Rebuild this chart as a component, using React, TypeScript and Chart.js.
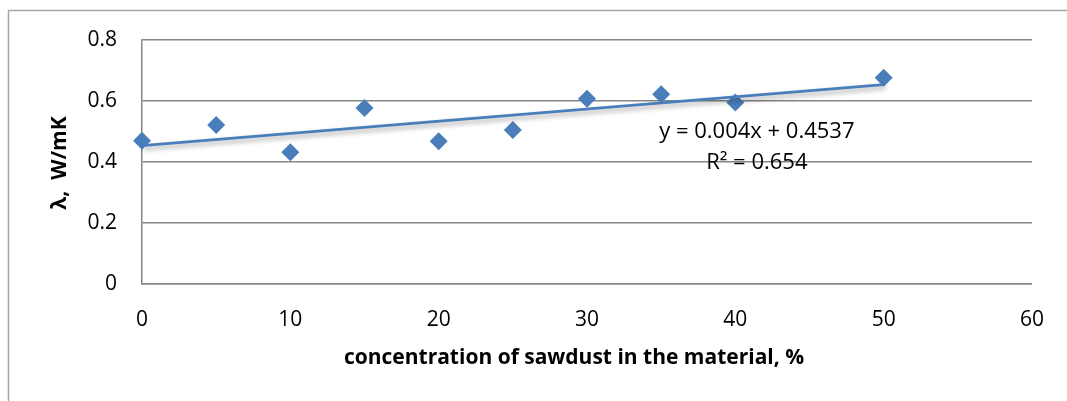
import React, { useEffect, useRef } from "react";
import { Chart, registerables } from "chart.js";

Chart.register(...registerables);

const concentrations = [0, 5, 10, 15, 20, 25, 30, 35, 40, 50];
const conductivity = [0.47, 0.521, 0.432, 0.577, 0.468, 0.505, 0.607, 0.622, 0.595, 0.676];
const trendX = [0, 50];
const trendY = [0.4537, 0.6537];
const xTicks = [0, 10, 20, 30, 40, 50, 60];
const yTicks = [0, 0.2, 0.4, 0.6, 0.8];
const equationLines = ["y = 0.004x + 0.4537", "R² = 0.654"];
const xTitle = "concentration of sawdust in the material, %";
const yTitle = "λ,  W/mK";

const FONT = "'Open Sans', 'Liberation Sans', sans-serif";
const BLUE = "#4a7ebb";
const GRID = "#868686";

export default function App() {
  const ref = useRef<HTMLCanvasElement | null>(null);
  useEffect(() => {
    if (!ref.current) return;
    const decor = {
      id: "decor",
      beforeDraw(chart: any) {
        const ctx = chart.ctx;
        ctx.save();
        ctx.fillStyle = "#fff";
        ctx.fillRect(0, 0, chart.width, chart.height);
        ctx.strokeStyle = "#a6a6a6";
        ctx.lineWidth = 1.5;
        ctx.strokeRect(8.5, 10.5, 3000, 3000);
        ctx.restore();
      },
      beforeDatasetDraw(chart: any, args: any) {
        if (args.index === 1) {
          const ctx = chart.ctx;
          ctx.save();
          ctx.shadowColor = "rgba(0,0,0,0.35)";
          ctx.shadowBlur = 5;
          ctx.shadowOffsetX = 2;
          ctx.shadowOffsetY = 3;
        }
      },
      afterDatasetDraw(chart: any, args: any) {
        if (args.index === 1) chart.ctx.restore();
      },
      afterDraw(chart: any) {
        const ctx = chart.ctx;
        const xs = chart.scales.x;
        const ys = chart.scales.y;
        ctx.save();
        ctx.fillStyle = "#000";
        ctx.textAlign = "center";
        ctx.textBaseline = "middle";
        ctx.font = `22px ${FONT}`;
        const ex = xs.getPixelForValue(41.45);
        ctx.fillText(equationLines[0], ex, ys.getPixelForValue(0.498));
        ctx.fillText(equationLines[1], ex, ys.getPixelForValue(0.397));
        ctx.font = `bold 21px ${FONT}`;
        ctx.fillText(xTitle, 574, 358);
        ctx.translate(60, 163);
        ctx.rotate(-Math.PI / 2);
        ctx.fillText(yTitle, 0, 0);
        ctx.restore();
      },
    };
    const chart = new Chart(ref.current, {
      type: "scatter",
      data: {
        datasets: [
          {
            data: concentrations.map((x, i) => ({ x, y: conductivity[i] })),
            pointStyle: "rectRot",
            pointRadius: 9,
            pointHoverRadius: 9,
            backgroundColor: BLUE,
            borderColor: BLUE,
            borderWidth: 0,
            showLine: false,
            order: 1,
            clip: false as any,
          },
          {
            data: trendX.map((x, i) => ({ x, y: trendY[i] })),
            showLine: true,
            borderColor: BLUE,
            borderWidth: 3,
            pointRadius: 0,
            order: 0,
            clip: false as any,
          },
        ],
      },
      options: {
        animation: false,
        responsive: true,
        maintainAspectRatio: false,
        layout: { padding: { left: 0, top: 40, right: 32, bottom: 0 } },
        plugins: { legend: { display: false }, tooltip: { enabled: false } },
        scales: {
          x: {
            type: "linear",
            min: 0,
            max: 60,
            afterFit: (s: any) => { s.height = 117; },
            afterBuildTicks: (s: any) => { s.ticks = xTicks.map((v) => ({ value: v })); },
            grid: { display: false, drawTicks: false },
            border: { display: true, color: GRID, width: 1.5 },
            ticks: { padding: 23, color: "#000", font: { family: FONT, size: 21 }, callback: (v: any) => String(v) },
          },
          y: {
            type: "linear",
            min: 0,
            max: 0.8,
            afterFit: (s: any) => { s.width = 142; },
            afterBuildTicks: (s: any) => { s.ticks = yTicks.map((v) => ({ value: v })); },
            grid: { display: true, drawTicks: false, color: GRID, lineWidth: 1.5 },
            border: { display: true, color: GRID, width: 1.5 },
            ticks: { padding: 25, color: "#000", font: { family: FONT, size: 21 }, callback: (v: any) => String(Number(Number(v).toFixed(1))) },
          },
        },
      },
      plugins: [decor],
    });
    return () => chart.destroy();
  }, []);
  return (
    <div style={{ position: "absolute", left: 0, top: 0, width: 1067, height: 401 }}>
      <canvas ref={ref} />
    </div>
  );
}
